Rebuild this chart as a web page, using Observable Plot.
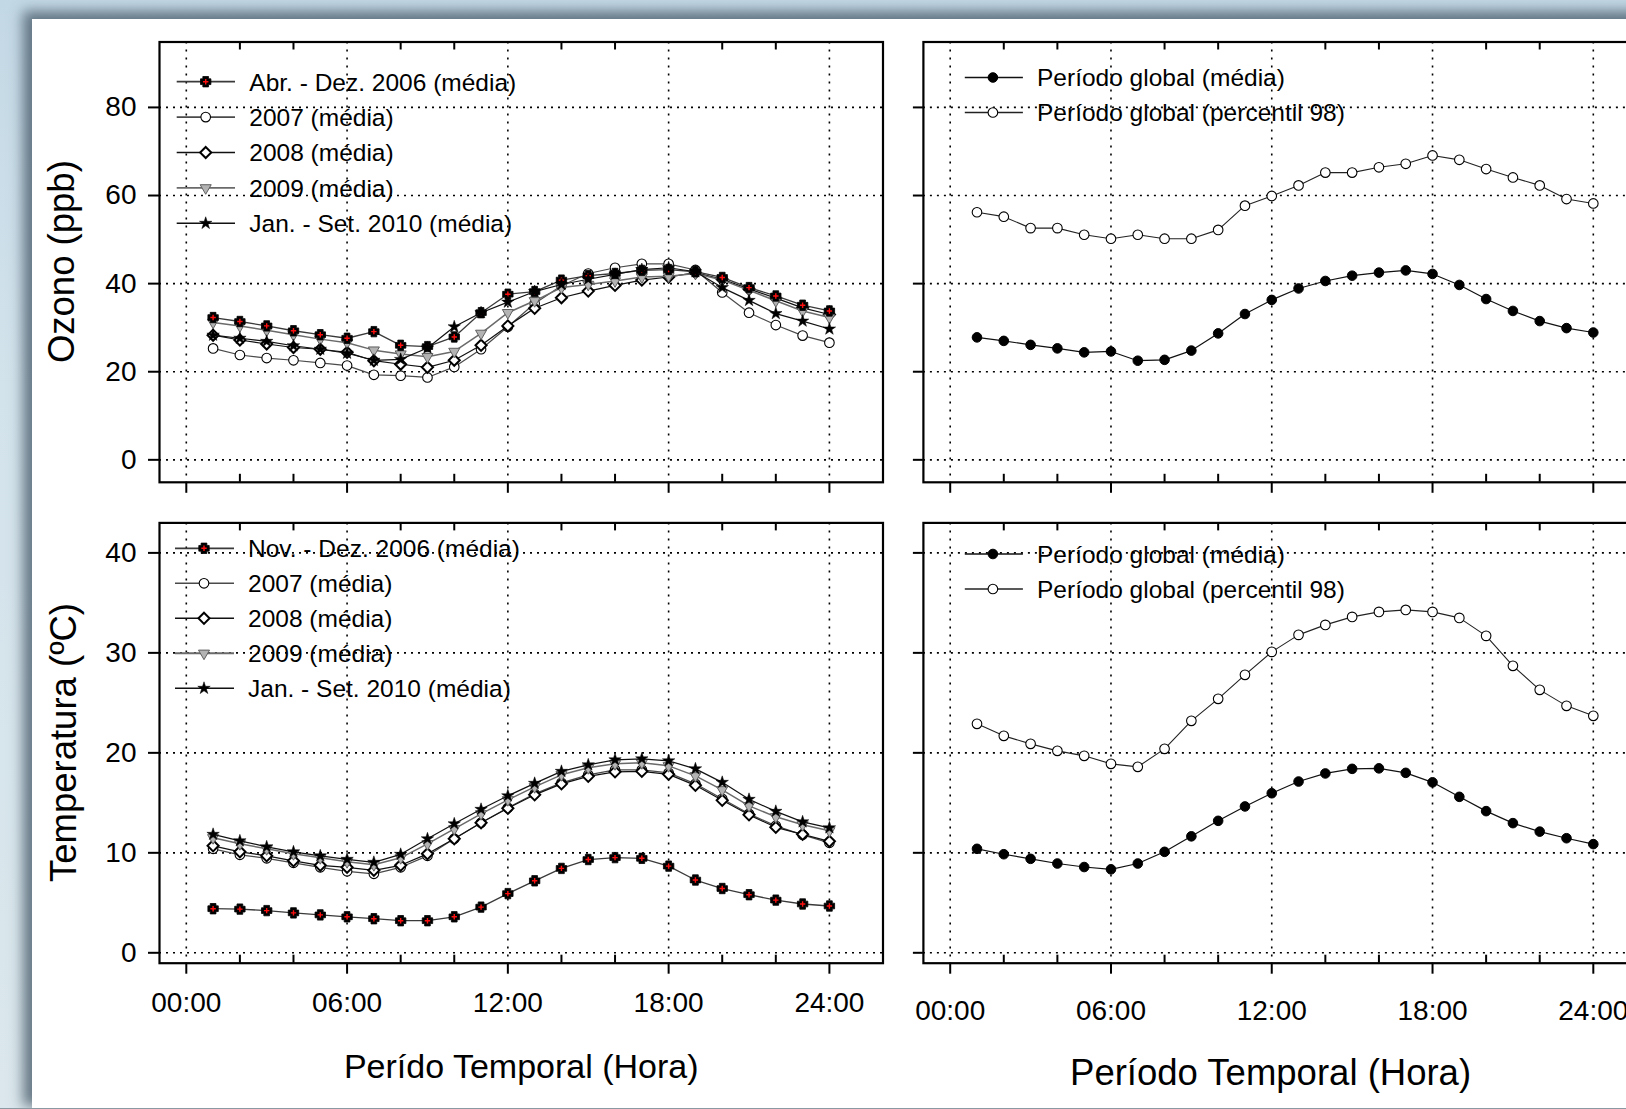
<!DOCTYPE html>
<html><head><meta charset="utf-8">
<script src="https://cdn.jsdelivr.net/npm/d3@7"></script>
<script src="https://cdn.jsdelivr.net/npm/@observablehq/plot@0.6"></script>
<style>
html,body{margin:0;padding:0;width:1626px;height:1109px;overflow:hidden;}
body{background:linear-gradient(180deg,#c3d8e5 0%,#d3e3ec 35%,#dbe7ec 100%);}
#sheet{position:absolute;left:32px;top:19px;width:1700px;height:1088.5px;background:#fff;box-shadow:-6px -5px 12px 3px rgba(70,90,105,0.78);}
#bottomline{position:absolute;left:0;top:1107.5px;width:1626px;height:1.5px;background:#8a99a2;}
#chart{position:absolute;left:0;top:0;width:1626px;height:1109px;overflow:hidden;}
#chart svg{position:absolute;left:0;top:0;}
</style></head><body>
<div id="sheet"></div><div id="bottomline"></div><div id="chart"></div>
<script>
// ---------- data ----------
const hours = d3.range(1, 25);
const xTicks = [0, 6, 12, 18, 24];
const xTickLabels = ["00:00", "06:00", "12:00", "18:00", "24:00"];
const xMinorTicks = [2, 4, 8, 10, 14, 16, 20, 22];
const ozoneTicks = [0, 20, 40, 60, 80];
const tempTicks = [0, 10, 20, 30, 40];

const ozoneLabels = ["Abr. - Dez. 2006 (média)", "2007 (média)", "2008 (média)", "2009 (média)", "Jan. - Set. 2010 (média)"];
const tempLabels = ["Nov. - Dez. 2006 (média)", "2007 (média)", "2008 (média)", "2009 (média)", "Jan. - Set. 2010 (média)"];
const globalLabels = ["Período global (média)", "Período global (percentil 98)"];

const ozone2006 = [32.3,31.4,30.4,29.3,28.4,27.6,29.1,26.0,25.7,27.9,33.4,37.6,38.2,40.8,41.8,42.3,43.0,43.2,42.7,41.4,39.1,37.2,35.1,33.8];
const ozone2007 = [25.3,23.8,23.1,22.6,22.0,21.4,19.3,19.1,18.7,21.1,25.1,30.2,35.5,39.5,42.3,43.6,44.5,44.5,43.1,38.0,33.4,30.6,28.2,26.6];
const ozone2008 = [28.3,27.2,26.3,25.5,25.1,24.4,22.5,21.7,21.0,22.6,26.0,30.4,34.4,36.8,38.3,39.6,40.8,41.5,42.5,41.0,38.8,36.7,34.5,33.0];
const ozone2009 = [31.2,30.4,29.4,28.4,27.4,26.6,24.9,24.0,23.4,24.6,28.7,33.4,36.1,39.1,39.8,40.6,41.5,41.7,42.3,40.8,38.5,36.1,33.8,32.3];
const ozone2010 = [28.3,27.6,26.9,25.9,25.1,24.2,22.6,22.8,25.4,30.2,33.4,35.8,38.2,39.8,41.0,42.1,43.2,43.6,42.7,39.1,36.2,33.2,31.5,29.7];

const temp2006 = [4.41,4.37,4.22,3.99,3.79,3.60,3.41,3.21,3.21,3.60,4.57,5.92,7.20,8.44,9.33,9.52,9.45,8.67,7.28,6.43,5.81,5.27,4.88,4.68];
const temp2007 = [10.4,9.8,9.45,9.0,8.55,8.15,7.9,8.55,9.7,11.4,13.0,14.5,15.9,17.0,17.8,18.3,18.3,18.0,16.9,15.4,13.9,12.7,11.8,11.0];
const temp2008 = [10.7,10.1,9.7,9.2,8.75,8.55,8.25,8.75,9.9,11.4,13.0,14.45,15.8,16.9,17.65,18.1,18.15,17.85,16.75,15.25,13.8,12.55,11.85,11.15];
const temp2009 = [11.5,10.9,10.4,9.9,9.5,9.1,8.8,9.5,10.9,12.4,13.9,15.3,16.6,17.8,18.5,18.9,19.0,18.7,17.7,16.3,14.7,13.6,12.8,12.2];
const temp2010 = [11.85,11.2,10.6,10.1,9.7,9.35,9.05,9.85,11.4,12.9,14.35,15.7,16.95,18.15,18.8,19.3,19.4,19.2,18.4,17.05,15.35,14.15,13.1,12.5];

const ozoneMean = [27.8,27.0,26.1,25.3,24.4,24.6,22.5,22.7,24.8,28.7,33.1,36.3,38.9,40.6,41.8,42.5,43.0,42.2,39.7,36.5,33.8,31.5,29.9,28.9];
const ozoneP98 = [56.2,55.2,52.6,52.6,51.1,50.2,51.1,50.2,50.2,52.2,57.7,59.9,62.3,65.2,65.2,66.4,67.2,69.1,68.1,66.0,64.1,62.3,59.2,58.2];
const tempMean = [10.4,9.86,9.4,8.93,8.58,8.35,8.93,10.1,11.65,13.2,14.64,15.96,17.13,17.94,18.4,18.45,18.0,17.05,15.6,14.17,12.97,12.12,11.46,10.87];
const tempP98 = [22.9,21.7,20.9,20.2,19.7,18.9,18.6,20.4,23.2,25.4,27.8,30.1,31.8,32.8,33.6,34.1,34.3,34.1,33.5,31.7,28.7,26.3,24.7,23.7];

// ---------- symbols ----------
const symFatPlus = {draw(ctx, size) {
  const s = Math.sqrt(size / Math.PI), w = 0.55 * s;
  ctx.moveTo(-w,-s); ctx.lineTo(w,-s); ctx.lineTo(w,-w); ctx.lineTo(s,-w); ctx.lineTo(s,w); ctx.lineTo(w,w);
  ctx.lineTo(w,s); ctx.lineTo(-w,s); ctx.lineTo(-w,w); ctx.lineTo(-s,w); ctx.lineTo(-s,-w); ctx.lineTo(-w,-w); ctx.closePath();
}};
const symThinPlus = {draw(ctx, size) {
  const s = Math.sqrt(size / Math.PI);
  ctx.moveTo(-s,0); ctx.lineTo(s,0); ctx.moveTo(0,-s); ctx.lineTo(0,s);
}};
const symDown = {draw(ctx, size) {
  const y = Math.sqrt(size / (3 * Math.sqrt(3))), x = Math.sqrt(3) * y;
  ctx.moveTo(0, 2*y); ctx.lineTo(-x, -y); ctx.lineTo(x, -y); ctx.closePath();
}};

const style2006 = {line: "#3a3a3a", lw: 1.3, marks: [
  {symbol: symFatPlus, r: 5.2, fill: "black", stroke: "black", sw: 0.8},
  {symbol: symThinPlus, r: 2.7, fill: "none", stroke: "#ff1010", sw: 1.4}]};
const style2007 = {line: "#4a4a4a", lw: 1.2, marks: [{symbol: d3.symbolCircle, r: 4.8, fill: "white", stroke: "black", sw: 1.1}]};
const style2008 = {line: "#111", lw: 1.2, marks: [{symbol: d3.symbolDiamond2, r: 5, fill: "white", stroke: "black", sw: 2}]};
const style2009 = {line: "#6a6a6a", lw: 1.5, marks: [{symbol: symDown, r: 4.1, fill: "#b3b3b3", stroke: "#606060", sw: 1}]};
const style2010 = {line: "#111", lw: 1.2, marks: [{symbol: d3.symbolStar, r: 3.9, fill: "black", stroke: "black", sw: 0.5}]};
const styleMean = {line: "#111", lw: 1.2, marks: [{symbol: d3.symbolCircle, r: 4.8, fill: "black", stroke: "black", sw: 1}]};
const styleP98 = {line: "#222", lw: 1.1, marks: [{symbol: d3.symbolCircle, r: 4.8, fill: "white", stroke: "black", sw: 1.1}]};

const FONT = "Liberation Sans, Arial, Helvetica, sans-serif";
const H = 1109;

function seriesMarks(series) {
  const marks = [];
  for (const s of series) {
    const data = hours.map((h, i) => ({h, v: s.values[i]}));
    marks.push(Plot.line(data, {x: "h", y: "v", stroke: s.style.line, strokeWidth: s.style.lw}));
    for (const m of s.style.marks) {
      marks.push(Plot.dot(data, {x: "h", y: "v", symbol: m.symbol, r: m.r, fill: m.fill, stroke: m.stroke, strokeWidth: m.sw}));
    }
  }
  return marks;
}

function addLegend(svg, items, o) {
  const g = d3.select(svg).append("g").attr("font-family", FONT).attr("font-size", o.fontSize).attr("text-anchor", "start");
  items.forEach((it, i) => {
    const y = o.y0 + i * o.dy;
    g.append("line").attr("x1", o.x0).attr("x2", o.x1).attr("y1", y).attr("y2", y)
      .attr("stroke", it.style.line).attr("stroke-width", it.style.lw + 0.4);
    for (const m of it.style.marks) {
      g.append("path").attr("transform", `translate(${o.xm},${y})`)
        .attr("d", d3.symbol(m.symbol, Math.PI * m.r * m.r)())
        .attr("fill", m.fill).attr("stroke", m.stroke).attr("stroke-width", m.sw);
    }
    g.append("text").attr("x", o.xt).attr("y", y).attr("dy", "0.36em").attr("fill", "black").text(it.label);
  });
}

function addYTitle(svg, text, cx, cy, size) {
  d3.select(svg).append("text")
    .attr("transform", `translate(${cx},${cy}) rotate(-90)`)
    .attr("text-anchor", "middle").attr("dy", "0.36em")
    .attr("font-family", FONT).attr("font-size", size).attr("fill", "black")
    .text(text);
}

function panel(p) {
  const [fx0, fx1, fy0, fy1] = p.frame;
  const fh = fy1 - fy0;
  const marks = [
    Plot.gridY(p.yTicks, {stroke: "black", strokeOpacity: 1, strokeWidth: 1.6, strokeDasharray: "2,5"}),
    Plot.gridX(xTicks, {stroke: "black", strokeOpacity: 1, strokeWidth: 1.6, strokeDasharray: "2,6"}),
    Plot.ruleX(xMinorTicks, {x: d => d, insetBottom: fh - 8, strokeWidth: 2}),
    Plot.ruleX(xMinorTicks, {x: d => d, insetTop: fh - 8, strokeWidth: 2}),
    Plot.axisY({ticks: p.yTicks, tickSize: p.yLabels ? 11 : 10, tickPadding: 12, fontSize: 28, strokeWidth: 2,
      tickFormat: p.yLabels ? (d => String(d)) : (() => ""), label: null}),
    Plot.axisX({ticks: xTicks, tickSize: 11, tickPadding: p.xPad || 18, fontSize: 28, strokeWidth: 2,
      tickFormat: p.xLabels ? (d => xTickLabels[xTicks.indexOf(d)]) : (() => ""), label: null}),
    ...seriesMarks(p.series),
    Plot.frame({stroke: "black", strokeWidth: 2.2})
  ];
  if (p.xTitle) marks.push(Plot.text([p.xTitle], {text: d => d, frameAnchor: "bottom", dx: p.xTitleDx || 0, dy: p.xTitleDy, fontSize: p.xTitleSize, lineAnchor: "middle"}));
  const svg = Plot.plot({
    width: p.width, height: H,
    marginLeft: fx0, marginRight: p.width - fx1, marginTop: fy0, marginBottom: H - fy1,
    x: {domain: [-1, 26]},
    y: {domain: p.yDomain},
    style: {background: "none", maxWidth: "none", overflow: "visible", fontFamily: FONT, color: "black"},
    marks
  });
  if (p.yTitle) addYTitle(svg, p.yTitle, p.yTitleX, (fy0 + fy1) / 2, 36.5);
  addLegend(svg, p.legend.items, p.legend);
  document.getElementById("chart").appendChild(svg);
}

const order = (arr) => [arr[1], arr[2], arr[3], arr[0], arr[4]];

const ozSeries = [
  {values: ozone2006, style: style2006}, {values: ozone2007, style: style2007}, {values: ozone2008, style: style2008},
  {values: ozone2009, style: style2009}, {values: ozone2010, style: style2010}];
const tSeries = [
  {values: temp2006, style: style2006}, {values: temp2007, style: style2007}, {values: temp2008, style: style2008},
  {values: temp2009, style: style2009}, {values: temp2010, style: style2010}];

const TOP = [41.5, 481.8], BOT = [522.4, 962.7];
const LEFT = [159, 882.5], RIGHT = [922.9, 1646.4];

panel({width: 1626, frame: [LEFT[0], LEFT[1], TOP[0], TOP[1]], yDomain: [-5.1, 94.85], yTicks: ozoneTicks,
  yLabels: true, xLabels: false, series: order(ozSeries), yTitle: "Ozono (ppb)", yTitleX: 60.5,
  legend: {items: ozSeries.map((s, i) => ({style: s.style, label: ozoneLabels[i]})), x0: 176.7, x1: 235, xm: 205.7, xt: 249.3, y0: 81.7, dy: 35.4, fontSize: 24.5}});

panel({width: 1626, frame: [LEFT[0], LEFT[1], BOT[0], BOT[1]], yDomain: [-1.04, 43.0], yTicks: tempTicks,
  yLabels: true, xLabels: true, xPad: 18, series: order(tSeries), yTitle: "Temperatura (ºC)", yTitleX: 63,
  xTitle: "Perído Temporal (Hora)", xTitleSize: 34, xTitleDy: 104,
  legend: {items: tSeries.map((s, i) => ({style: s.style, label: tempLabels[i]})), x0: 175, x1: 234, xm: 204, xt: 248, y0: 548.3, dy: 35.0, fontSize: 24.5}});

panel({width: 1660, frame: [RIGHT[0], RIGHT[1], TOP[0], TOP[1]], yDomain: [-5.1, 94.85], yTicks: ozoneTicks,
  yLabels: false, xLabels: false, series: [{values: ozoneP98, style: styleP98}, {values: ozoneMean, style: styleMean}],
  legend: {items: [{style: styleMean, label: globalLabels[0]}, {style: styleP98, label: globalLabels[1]}], x0: 964.8, x1: 1022.9, xm: 992.9, xt: 1037, y0: 77.5, dy: 35, fontSize: 24.5}});

panel({width: 1660, frame: [RIGHT[0], RIGHT[1], BOT[0], BOT[1]], yDomain: [-1.04, 43.0], yTicks: tempTicks,
  yLabels: false, xLabels: true, xPad: 26, series: [{values: tempP98, style: styleP98}, {values: tempMean, style: styleMean}],
  xTitle: "Período Temporal (Hora)", xTitleSize: 36.5, xTitleDx: -14.6, xTitleDy: 110.6,
  legend: {items: [{style: styleMean, label: globalLabels[0]}, {style: styleP98, label: globalLabels[1]}], x0: 964.8, x1: 1022.9, xm: 992.9, xt: 1037, y0: 554, dy: 35, fontSize: 24.5}});
</script>
</body></html>
